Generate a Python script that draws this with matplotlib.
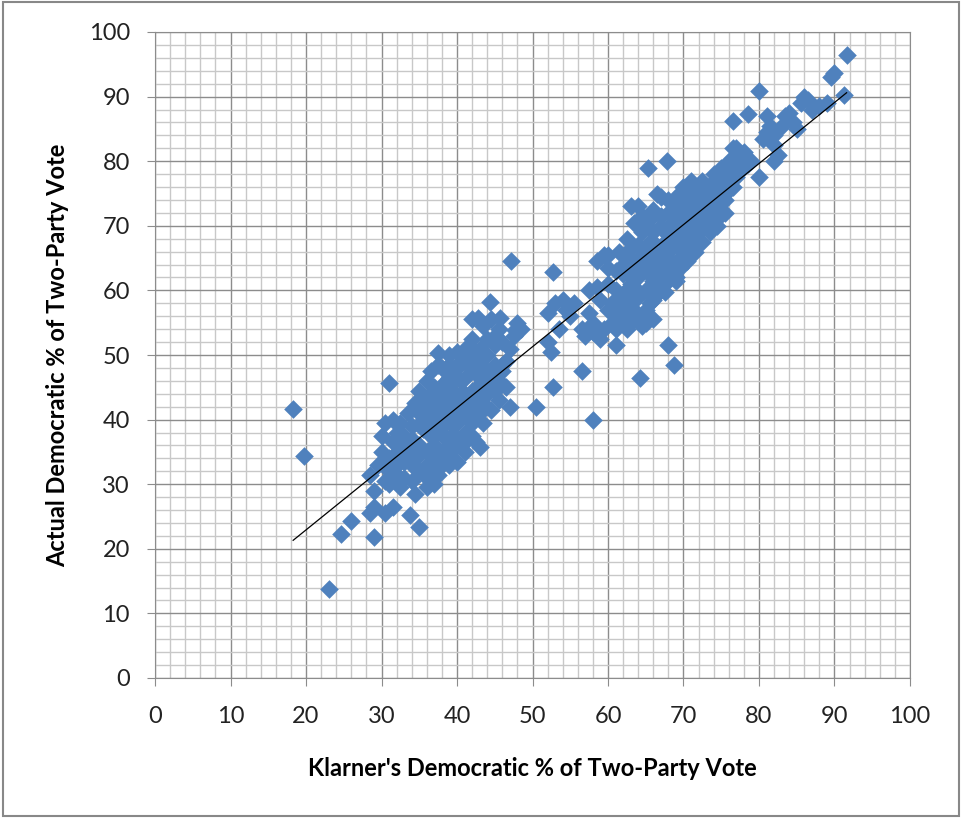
import numpy as np
import matplotlib
matplotlib.use("Agg")
import matplotlib.pyplot as plt
from matplotlib.patches import Rectangle

plt.rcParams['font.family'] = ['Lato', 'DejaVu Sans']

# (Klarner's %, actual %) pairs
outliers = [(18.3, 41.6), (19.7, 34.4), (23.0, 13.8), (24.7, 22.3), (26.0, 24.3),
            (29.0, 21.8), (31.0, 45.6), (47.2, 64.6), (50.4, 42.0), (52.7, 62.9),
            (52.7, 45.0), (56.5, 47.5), (58.0, 40.0), (64.2, 46.4), (68.0, 51.6),
            (68.7, 48.5), (65.0, 55.0), (65.3, 78.9), (67.8, 80.1), (47.0, 42.0),
            (43.0, 35.8), (35.0, 23.3), (33.8, 25.3)]

low_cluster = [(28.5, 25.5), (29.0, 26.5), (30.5, 25.5), (31.5, 26.5), (34.5, 28.5),
               (36.0, 29.5), (37.0, 30.0), (28.5, 31.5), (29.5, 33.0), (30.0, 35.0),
               (30.0, 37.5), (30.5, 39.5), (31.5, 40.0), (32.0, 38.0), (31.5, 36.5),
               (32.0, 33.0), (33.0, 31.0), (32.5, 29.5), (33.5, 35.0), (34.0, 37.0),
               (34.0, 39.0), (35.0, 41.0), (35.5, 42.5), (36.0, 40.0), (36.5, 37.5),
               (37.0, 36.0), (37.0, 34.0), (36.0, 33.0), (35.0, 32.0), (34.0, 30.5),
               (38.0, 35.0), (38.5, 37.0), (39.0, 34.5), (40.0, 33.5), (40.5, 36.0),
               (41.0, 38.0), (42.0, 39.5), (42.5, 36.5), (43.0, 41.0), (43.5, 42.5),
               (44.0, 44.0), (45.0, 44.5), (45.5, 46.0), (46.0, 47.5), (46.5, 45.0),
               (46.5, 49.0), (47.0, 51.0), (47.5, 53.0), (48.0, 55.0), (48.5, 54.0),
               (44.4, 58.2), (42.8, 55.7), (45.7, 55.7), (43.5, 54.5), (42.0, 52.5),
               (41.0, 51.0), (40.0, 50.5), (39.0, 50.0), (37.5, 50.3), (37.5, 48.5),
               (36.5, 47.5), (36.0, 46.0), (37.0, 45.0), (38.0, 44.0), (38.5, 46.0),
               (39.5, 47.5), (40.5, 46.0), (41.0, 44.0), (40.0, 42.5), (39.0, 41.5),
               (38.0, 40.0), (39.5, 39.0), (40.5, 40.5), (41.5, 42.0), (42.0, 44.5),
               (42.5, 47.0), (43.0, 49.0), (44.0, 50.0), (45.0, 51.5), (44.0, 47.5),
               (45.0, 48.5), (41.5, 48.5), (39.0, 45.5), (37.5, 42.0), (36.5, 44.0),
               (35.0, 44.5), (34.5, 42.5), (33.5, 41.0), (32.5, 39.5), (33.0, 37.5),
               (35.0, 36.0), (35.5, 38.5), (36.5, 39.0), (37.0, 41.0), (38.0, 38.0),
               (40.0, 37.0), (41.0, 35.0), (42.0, 37.5), (39.0, 37.0), (38.0, 33.0),
               (37.5, 31.5), (36.0, 31.0), (39.5, 43.5), (40.5, 44.0), (43.0, 45.5),
               (44.5, 46.0), (46.0, 52.0), (47.7, 53.9), (45.5, 54.0), (44.5, 55.5),
               (42.0, 55.5), (42.5, 50.5), (40.5, 49.0), (38.0, 48.0), (39.0, 48.5),
               (39.5, 35.5), (40.0, 39.5), (41.5, 40.5), (42.5, 42.0), (43.5, 47.5),
               (30.5, 30.5), (31.0, 32.0), (29.0, 29.0), (33.0, 33.5), (34.5, 34.5)]

low_fill = [(34.0, 33.0), (35.0, 34.5), (36.0, 35.0), (37.0, 37.5), (38.0, 39.0),
            (39.0, 40.0), (40.0, 41.0), (41.0, 41.5), (42.0, 43.0), (43.0, 44.0),
            (44.0, 45.5), (45.0, 47.0), (46.0, 48.5), (36.0, 42.0), (37.0, 43.5),
            (38.0, 45.0), (39.0, 46.5), (40.0, 48.0), (41.0, 46.5), (42.0, 49.5),
            (43.0, 51.0), (44.0, 52.5), (45.0, 53.0), (38.0, 42.5), (39.5, 44.5),
            (35.5, 40.0), (34.0, 36.0), (33.0, 36.0), (32.0, 35.0), (31.0, 34.0),
            (30.0, 33.5), (31.0, 30.0), (32.0, 31.5), (37.0, 32.5), (39.0, 33.0),
            (41.0, 36.5), (42.0, 40.5), (43.5, 39.5), (44.5, 41.5), (45.5, 43.0)]

mid_points = [(52.0, 56.5), (53.0, 58.0), (54.0, 58.5), (54.5, 57.0), (55.0, 56.0),
              (55.5, 58.0), (52.0, 52.0), (53.5, 54.0), (52.5, 50.5), (56.5, 54.0),
              (57.5, 56.5), (58.0, 55.0), (57.5, 60.0), (58.5, 60.5), (59.0, 58.5),
              (57.0, 53.0), (58.0, 53.5)]

high_cluster = [(58.5, 64.5), (59.5, 65.5), (60.0, 61.0), (60.5, 58.0), (61.0, 57.0),
                (61.5, 56.0), (62.0, 55.0), (61.0, 51.5), (62.0, 58.0), (62.5, 60.0),
                (63.0, 62.0), (63.5, 63.0), (62.5, 65.0), (63.0, 66.5), (64.0, 67.0),
                (63.0, 73.0), (64.0, 73.0), (62.5, 68.0), (64.5, 69.0), (65.0, 70.0),
                (65.5, 71.0), (66.0, 72.5), (66.5, 75.0), (67.0, 74.5), (68.0, 74.0),
                (65.0, 64.0), (66.0, 65.0), (67.0, 66.0), (67.5, 67.5), (68.0, 68.5),
                (69.0, 70.0), (69.5, 71.5), (70.0, 72.0), (70.5, 73.0), (71.0, 74.0),
                (72.0, 75.0), (72.5, 77.0), (73.0, 76.0), (74.0, 77.0), (75.0, 78.0),
                (76.0, 79.0), (76.5, 80.5), (76.5, 82.0), (77.0, 79.0), (78.0, 80.0),
                (74.0, 75.0), (73.5, 73.0), (75.0, 73.5), (74.5, 71.0), (72.0, 72.0),
                (71.0, 70.0), (70.0, 69.0), (69.0, 67.0), (68.0, 65.0), (67.0, 63.0),
                (66.0, 61.5), (65.0, 60.0), (64.0, 59.0), (63.0, 57.5), (64.0, 56.0),
                (65.0, 57.0), (66.0, 58.5), (67.0, 60.0), (68.0, 61.5), (69.0, 62.0),
                (67.5, 59.7), (69.5, 65.0), (70.5, 67.0), (71.5, 68.5), (72.5, 70.0),
                (73.0, 71.5), (66.0, 67.5), (65.0, 66.0), (64.0, 63.5), (63.5, 60.5),
                (62.0, 62.5), (61.0, 60.0), (60.0, 57.0), (60.5, 55.0), (59.5, 54.0),
                (59.0, 52.5), (62.5, 54.0), (64.5, 54.5), (66.0, 55.5), (68.5, 62.5),
                (69.5, 63.5), (70.5, 64.5), (71.5, 66.0), (72.5, 67.5), (73.5, 69.0),
                (74.5, 70.0), (75.5, 72.0), (71.0, 77.0), (70.0, 76.0), (69.0, 74.5),
                (68.0, 72.0), (67.0, 70.0), (66.0, 69.0), (65.5, 67.5), (69.0, 73.0),
                (71.0, 72.0), (72.5, 74.0), (73.5, 76.0), (74.5, 76.0), (75.5, 75.0),
                (71.5, 75.0), (70.5, 75.5), (74.0, 78.0), (75.0, 79.0), (62.0, 64.0),
                (61.0, 63.0), (60.0, 63.5), (60.0, 65.5), (61.5, 66.0), (63.5, 64.5),
                (64.5, 65.5), (65.5, 62.5), (66.5, 64.0), (67.5, 65.0), (68.5, 66.5),
                (69.5, 68.0), (70.0, 74.0), (72.0, 73.5), (69.0, 61.5), (63.5, 70.5),
                (64.5, 71.5), (67.0, 71.5), (68.5, 70.5), (70.0, 70.5), (71.5, 71.5)]

high_fill = [(61.0, 58.5), (62.0, 59.5), (63.0, 61.0), (64.0, 62.0), (65.0, 63.0),
             (66.0, 63.5), (67.0, 64.5), (68.0, 67.0), (69.0, 68.5), (70.0, 70.0),
             (71.0, 71.0), (72.0, 71.0), (73.0, 72.5), (74.0, 73.5), (75.0, 76.0),
             (76.0, 77.0), (77.0, 77.5), (73.0, 74.5), (72.0, 76.0), (70.0, 71.5),
             (68.0, 69.5), (66.0, 66.0), (64.0, 64.5), (63.0, 59.0), (62.0, 56.5),
             (61.0, 54.0), (63.5, 55.5), (65.5, 58.0), (66.5, 59.5), (67.5, 62.0),
             (68.5, 64.0), (70.0, 66.0), (71.0, 67.5), (72.0, 69.0), (73.5, 70.5),
             (74.5, 72.5), (75.5, 74.0), (76.5, 76.0), (77.5, 80.5), (78.0, 81.5)]

top_points = [(78.5, 79.5), (79.0, 80.0), (80.0, 77.5), (80.5, 83.5), (81.0, 84.5),
              (81.5, 85.5), (82.0, 80.0), (82.5, 81.0), (81.0, 87.0), (82.0, 84.0),
              (83.0, 85.5), (83.5, 87.0), (84.5, 86.0), (85.0, 85.0), (84.0, 87.5),
              (85.5, 89.0), (86.0, 90.0), (86.5, 89.5), (87.0, 88.0), (88.0, 88.5),
              (89.0, 89.0), (89.5, 93.0), (90.0, 93.7), (91.6, 96.5), (91.3, 90.3),
              (76.5, 86.2), (78.5, 87.3), (80.0, 90.9), (77.0, 82.0), (76.0, 80.0),
              (77.5, 78.5), (82.0, 82.5)]

groups = outliers + low_cluster + low_fill + mid_points + high_cluster + high_fill + top_points
klarner = np.array([p[0] for p in groups])
actual = np.array([p[1] for p in groups])

# linear trend line over the range of the data
slope, intercept = np.polyfit(klarner, actual, 1)
trend_x = np.array([klarner.min(), klarner.max()])
trend_y = slope * trend_x + intercept

fig = plt.figure(figsize=(9.62, 8.18), dpi=100)
ax = fig.add_axes([155 / 962, 1 - 678 / 818, 755 / 962, 646 / 818])

ax.set_xlim(0, 100)
ax.set_ylim(0, 100)
ax.set_xticks(np.arange(0, 101, 10))
ax.set_yticks(np.arange(0, 101, 10))
ax.set_xticks(np.arange(0, 101, 2), minor=True)
ax.set_yticks(np.arange(0, 101, 2), minor=True)
ax.grid(which='minor', color='#c8c8c8', linewidth=1.0)
ax.grid(which='major', color='#8c8c8c', linewidth=1.0)
ax.set_axisbelow(True)
ax.tick_params(which='minor', length=0)
ax.tick_params(which='major', length=6, color='#8c8c8c', labelsize=17, labelcolor='#222222')
ax.tick_params(axis='x', which='major', pad=14)
ax.tick_params(axis='y', which='major', pad=12)
for s in ax.spines.values():
    s.set_color('#8c8c8c')

ax.scatter(klarner, actual, marker='D', s=90, color='#4f81bd', linewidths=0, zorder=3)
ax.plot(trend_x, trend_y, color='black', linewidth=0.9, zorder=4)

ax.set_xlabel("Klarner's Democratic % of Two-Party Vote", fontsize=17, fontweight='bold', labelpad=22)
ax.set_ylabel("Actual Democratic % of Two-Party Vote", fontsize=17, fontweight='bold', labelpad=14)

fig.patches.append(Rectangle((0.003, 0.003), 0.994, 0.994, transform=fig.transFigure,
                             fill=False, edgecolor='#888888', linewidth=1.5))

fig.savefig("out.png", dpi=100)
